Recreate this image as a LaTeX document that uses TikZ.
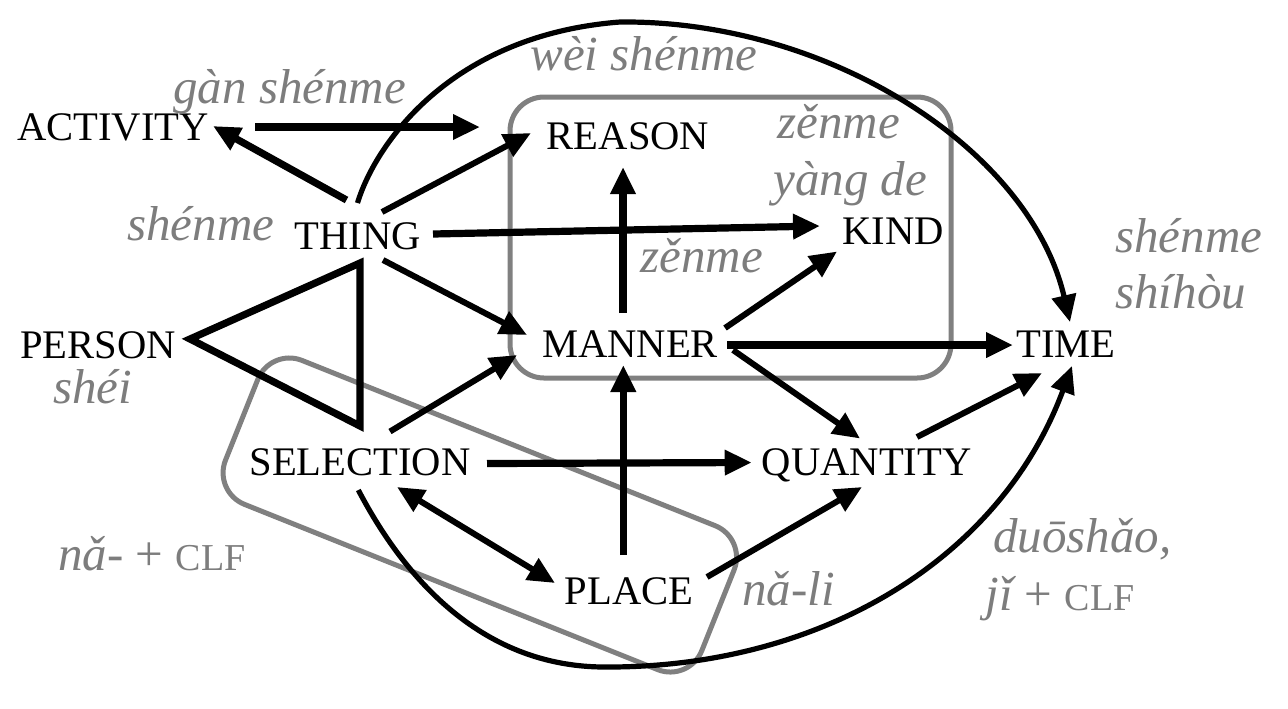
\documentclass[tikz,border=0pt]{standalone}
\usepackage{fontspec}
\setmainfont{Liberation Serif}
\usetikzlibrary{arrows.meta,calc}
\definecolor{lblgray}{RGB}{125,125,125}
\definecolor{boxgray}{RGB}{128,128,128}
\begin{document}
\begin{tikzpicture}[x=0.5pt,y=-0.5pt,
  concept/.style={inner sep=0pt, text height=13.4pt, text depth=0pt, font=\fontsize{20.3}{24}\selectfont},
  gloss/.style={anchor=base west, inner sep=0pt, text=lblgray, font=\fontsize{24.5}{29}\selectfont\itshape},
  tip/.style={-{Triangle[length=13.5pt,width=12pt]}},
  tips/.style={{Triangle[length=13.5pt,width=12pt]}-{Triangle[length=13.5pt,width=12pt]}},
  heavy/.style={line width=3.6pt},
  medium/.style={line width=3pt},
  curve/.style={line width=2.6pt},
  group/.style={draw=boxgray, line width=2.5pt, rounded corners=17pt, inner sep=0pt}
]
\fill[white] (0,0) rectangle (1288,708);
\useasboundingbox (0,0) rectangle (1288,708);

% groups
\node[group, minimum width=220.5pt, minimum height=140.5pt] (reasonbox) at (730.5,237.5) {};
\node[group, rotate=-21.8, minimum width=256.5pt, minimum height=77.5pt] (placebox) at (479.8,515) {};

% concepts
\node[concept] (activity) at (113,127.5) {ACTIVITY};
\node[concept] (reason) at (628,136) {REASON};
\node[concept] (kind) at (893,231.5) {KIND};
\node[concept] (thing) at (357.5,236) {THING};
\node[concept] (person) at (98,345) {PERSON};
\node[concept] (manner) at (630,344) {MANNER};
\node[concept] (time) at (1066,344) {TIME};
\node[concept] (selection) at (360,462.5) {SELECTION};
\node[concept] (quantity) at (866.7,462.5) {QUANTITY};
\node[concept] (place) at (629,591) {PLACE};

% glosses
\node[gloss] (g-activity) at (173,103) {gàn shénme};
\node[gloss] (g-reason) at (530,70) {wèi shénme};
\node[gloss] (g-kind1) at (777,138) {zěnme};
\node[gloss] (g-kind2) at (773,195) {yàng de};
\node[gloss] (g-thing) at (127,240) {shénme};
\node[gloss] (g-manner) at (640,272) {zěnme};
\node[gloss] (g-time1) at (1115,252) {shénme};
\node[gloss] (g-time2) at (1115,308) {shíhòu};
\node[gloss] (g-person) at (53,403) {shéi};
\node[gloss] (g-selection) at (58,570) {nǎ- {\upshape+ \fontsize{19}{21}\selectfont CLF}};
\node[gloss] (g-place) at (742,605) {nǎ-li};
\node[gloss] (g-quantity1) at (993,552) {duōshǎo,};
\node[gloss] (g-quantity2) at (985,610) {jǐ {\upshape+ \fontsize{19}{21}\selectfont CLF}};

\coordinate (topbend) at (620,22);
\coordinate (bottombend) at (605,667);

% connectors
\draw[heavy,tip] ($(thing)+(-11,-36)$) -- ($(activity)+(100,-1.5)$);
\draw[heavy,tip] ($(activity)+(142,-0.5)$) -- ($(reason)+(-148,-9)$);
\draw[medium,tip] ($(thing)+(24.5,-24)$) -- ($(reason)+(-97,-3)$);
\draw[heavy,tip] ($(thing)+(75.5,-2)$) -- ($(kind)+(-73,-5.5)$);
\draw[heavy,tip] ($(manner)+(-7,-31)$) -- ($(reason)+(-5,31)$);
\draw[medium,tip] ($(manner)+(95,-16)$) -- ($(kind)+(-56,20)$);
\draw[medium,tip] ($(thing)+(25.5,24)$) -- ($(manner)+(-103,-9)$);
\draw[medium,tip] ($(selection)+(30,-31)$) -- ($(manner)+(-113,11)$);
\draw[heavy,line join=miter] ($(person)+(92,-6)$) -- ($(thing)+(2.5,27)$) -- ($(selection)+(0,-36.5)$) -- cycle;
\draw[heavy,tip] ($(manner)+(97,1)$) -- ($(time)+(-53,1)$);
\draw[medium,tip] ($(manner)+(103,6)$) -- ($(quantity)+(-6.7,-24)$);
\draw[heavy,tip] ($(selection)+(127,1)$) -- ($(quantity)+(-115,0)$);
\draw[heavy,tip] ($(place)+(-5.7,-36)$) -- ($(manner)+(-6.7,21)$);
\draw[medium,tips] ($(selection)+(37,24.5)$) -- ($(place)+(-74,-8)$);
\draw[medium,tip] ($(place)+(78,-14)$) -- ($(quantity)+(-4.7,24.5)$);
\draw[medium,tip] ($(quantity)+(50.3,-25.5)$) -- ($(time)+(-24,29)$);
\draw[curve,tip] ($(thing)+(0,-33)$) .. controls (375,145) and (450,35) .. (topbend)
  .. controls (830,20) and (1030,150) .. ($(time)+(4,-22)$);
\draw[curve,tip] ($(selection)+(-1.7,27.5)$) .. controls (395,560) and (470,667) .. (bottombend)
  .. controls (820,668) and (1000,560) .. ($(time)+(6,22)$);
\end{tikzpicture}
\end{document}
